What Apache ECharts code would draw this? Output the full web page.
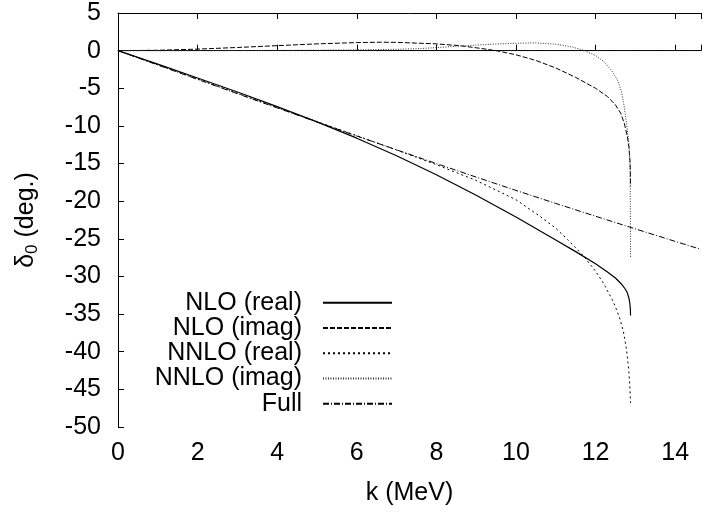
<!DOCTYPE html>
<html>
<head>
<meta charset="utf-8">
<script src="https://cdn.jsdelivr.net/npm/echarts@6/dist/echarts.min.js"></script>
<style>
  html, body { margin: 0; padding: 0; background: #fff; }
  #chart { width: 704px; height: 512px; }
</style>
</head>
<body>
<div id="chart"></div>
<script>
// S-wave phase shift delta_0 (degrees) versus momentum k (MeV)
const kNloReal = [0, 1, 2, 3, 4, 5, 6, 7, 8, 9, 10, 11, 11.5, 12, 12.3, 12.5, 12.65, 12.75, 12.8, 12.84, 12.86, 12.875, 12.88];
const nloReal  = [0, -1.8, -3.63, -5.5, -7.44, -9.47, -11.63, -13.96, -16.49, -19.21, -22.11, -25.16, -26.7, -28.3, -29.4, -30.2, -31.0, -31.7, -32.2, -32.9, -33.5, -34.3, -35.2];

const kNloImag = [0, 1, 2, 3, 4, 5, 6, 6.6, 7, 8, 8.6, 9, 9.5, 10, 10.5, 11, 11.5, 12, 12.3, 12.5, 12.63, 12.72, 12.8, 12.84, 12.87, 12.88];
const nloImag  = [0, 0.05, 0.2, 0.42, 0.66, 0.9, 1.07, 1.12, 1.1, 0.9, 0.65, 0.38, 0, -0.55, -1.3, -2.3, -3.55, -5.0, -6.1, -7.2, -8.3, -9.6, -11.4, -12.9, -15.0, -18.0];

const kNnloReal = [0, 1, 2, 3, 4, 5, 6, 7, 8, 9, 10, 10.6, 11, 11.3, 11.7, 12, 12.2, 12.45, 12.6, 12.7, 12.78, 12.83, 12.86, 12.88];
const nnloReal  = [0, -1.88, -3.78, -5.66, -7.55, -9.42, -11.3, -13.2, -15.15, -17.25, -19.8, -22.0, -23.6, -25.1, -27.3, -29.3, -30.9, -33.4, -35.4, -37.3, -39.8, -42.2, -44.4, -46.8];

const kNnloImag = [0, 2, 4, 5, 6, 7, 7.5, 8, 8.5, 9, 9.5, 10, 10.5, 11, 11.4, 11.7, 12, 12.2, 12.4, 12.55, 12.65, 12.72, 12.8, 12.85, 12.87, 12.88];
const nnloImag  = [0, 0, 0.03, 0.06, 0.1, 0.18, 0.25, 0.4, 0.58, 0.74, 0.88, 0.98, 1.04, 0.85, 0.5, 0.05, -0.65, -1.4, -2.6, -3.9, -5.4, -7.4, -10.5, -13.0, -16.0, -27.4];

const kFull = [0, 1, 2, 3, 4, 5, 6, 7, 8, 9, 10, 11, 12, 13, 14, 14.65];
const full  = [0, -1.91, -3.82, -5.72, -7.61, -9.48, -11.34, -13.18, -15.0, -16.8, -18.57, -20.3, -22.0, -23.68, -25.34, -26.4];

// flat reference at zero across the whole k range
const kZero = [0, 14.65];
const zero  = [0, 0];

const xTicks = { min: 0, max: 14.65, step: 2 };
const yTicks = { min: -50, max: 5, step: 5 };

const pairs = (ks, vs) => ks.map((k, i) => [k, vs[i]]);
const FONT = 'Liberation Sans, Arial, sans-serif';
const FS = 25;

function lineSeries(name, ks, vs, type, width, color) {
  return {
    name: name,
    type: 'line',
    data: pairs(ks, vs),
    symbol: 'none',
    smooth: false,
    silent: true,
    lineStyle: { color: color || '#000', width: width, type: type },
    itemStyle: { color: 'rgba(0,0,0,0)', borderWidth: 0 }
  };
}

const chart = echarts.init(document.getElementById('chart'), null, { renderer: 'canvas' });
chart.setOption({
  animation: false,
  backgroundColor: '#fff',
  textStyle: { fontFamily: FONT },
  grid: { left: 118, right: 0, top: 13, bottom: 85, containLabel: false },
  legend: {
    orient: 'vertical',
    right: 306,
    top: 285,
    align: 'right',
    itemWidth: 69,
    itemHeight: 10,
    itemGap: 0,
    selectedMode: false,
    itemStyle: { color: 'rgba(0,0,0,0)', borderWidth: 0 },
    data: ['NLO (real)', 'NLO (imag)', 'NNLO (real)', 'NNLO (imag)', 'Full'],
    textStyle: { fontSize: FS, lineHeight: 25.3, color: '#000', fontFamily: FONT, padding: [0, 16, 0, 0] }
  },
  xAxis: [
    {
      type: 'value',
      min: xTicks.min, max: xTicks.max, interval: xTicks.step,
      name: 'k (MeV)',
      nameLocation: 'middle',
      nameGap: 54,
      nameTextStyle: { fontSize: FS, color: '#000', fontFamily: FONT },
      axisLine: { lineStyle: { color: '#000', width: 1 } },
      axisTick: { inside: true, length: 6, lineStyle: { color: '#000' } },
      axisLabel: {
        fontSize: FS, color: '#000', margin: 14, fontFamily: FONT,
        formatter: v => (v % 2 === 0 ? String(v) : '')
      },
      splitLine: { show: false }
    },
    {
      type: 'value',
      position: 'top',
      min: xTicks.min, max: xTicks.max, interval: xTicks.step,
      axisLine: { lineStyle: { color: '#000', width: 1 } },
      axisTick: { inside: true, length: 6, lineStyle: { color: '#000' } },
      axisLabel: { show: false },
      splitLine: { show: false }
    }
  ],
  yAxis: {
    type: 'value',
    min: yTicks.min, max: yTicks.max, interval: yTicks.step,
    name: '{a|δ}{s|0}{a| (deg.)}',
    nameLocation: 'middle',
    nameGap: 77,
    nameRotate: 90,
    nameTextStyle: {
      color: '#000', fontFamily: FONT,
      rich: {
        a: { fontSize: FS, fontFamily: FONT, color: '#000', lineHeight: 30, verticalAlign: 'middle' },
        s: { fontSize: 17, fontFamily: FONT, color: '#000', lineHeight: 30, verticalAlign: 'bottom' }
      }
    },
    axisLine: { show: true, lineStyle: { color: '#000', width: 1 } },
    axisTick: { show: true, inside: true, length: 6, lineStyle: { color: '#000' } },
    axisLabel: { fontSize: FS, color: '#000', margin: 17, fontFamily: FONT },
    splitLine: { show: false }
  },
  series: [
    lineSeries('NLO (real)', kNloReal, nloReal, 'solid', 1.2),
    lineSeries('NLO (imag)', kNloImag, nloImag, [5, 2], 1),
    lineSeries('NNLO (real)', kNnloReal, nnloReal, [2, 3], 1),
    lineSeries('NNLO (imag)', kNnloImag, nnloImag, [1, 1.5], 1, '#333'),
    lineSeries('Full', kFull, full, [6, 2, 1, 2], 1),
    lineSeries('', kZero, zero, [1, 2], 1, '#222')
  ]
});
</script>
</body>
</html>
